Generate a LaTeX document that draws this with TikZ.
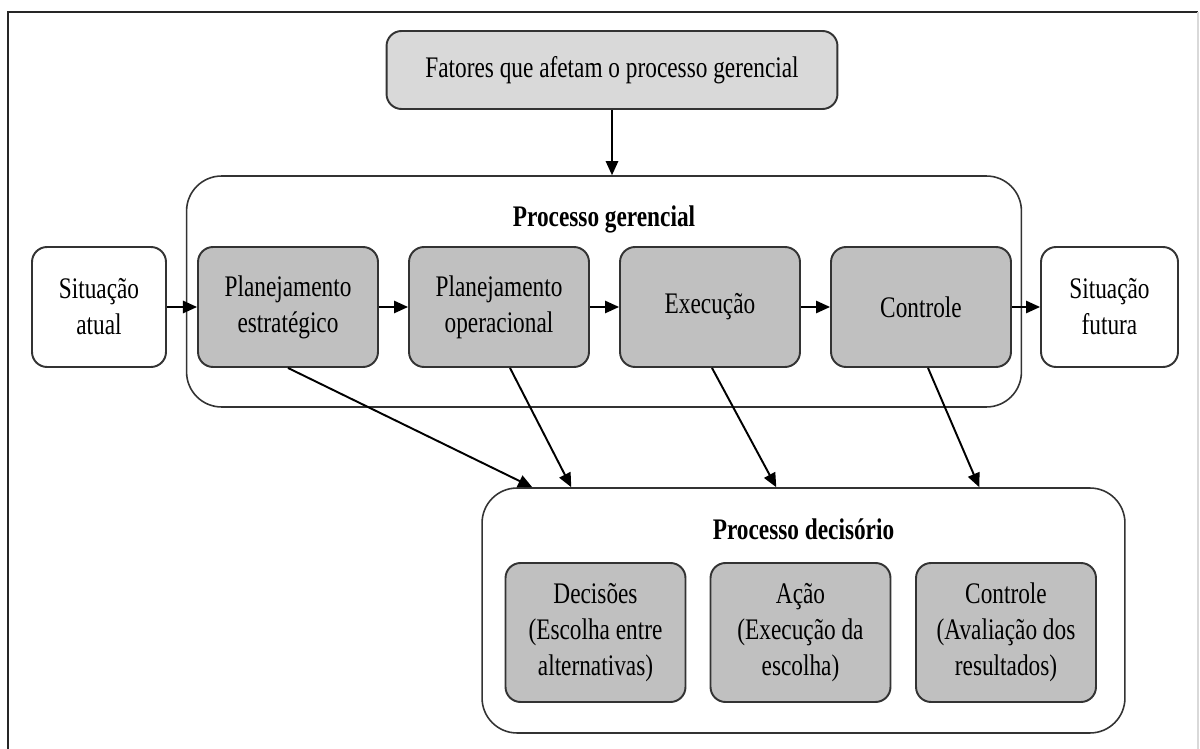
\documentclass[tikz,border=0pt]{standalone}
\usepackage{fontspec}
\setmainfont{Liberation Serif}[FakeStretch=0.78]
\usepackage{xcolor}
\usetikzlibrary{arrows.meta,calc}

\definecolor{cinzaclaro}{HTML}{D9D9D9}
\definecolor{cinza}{HTML}{C0C0C0}
\newcommand{\texto}{\fontsize{17pt}{20.4pt}\selectfont}

\tikzset{
  caixa/.style={draw=black!80, line width=1.1pt, rounded corners=0.3cm,
    fill=cinza, align=center, font=\texto, inner sep=2pt,
    minimum width=3.6cm, minimum height=2.4cm},
  situacao/.style={caixa, fill=white},
  grupo/.style={draw=black!80, line width=0.9pt, rounded corners=0.7cm,
    inner sep=0pt},
  seta/.style={line width=1.1pt, -{Triangle[length=8pt,width=7pt]}},
}

\begin{document}
\begin{tikzpicture}[x=0.02cm,y=-0.02cm]
\useasboundingbox (0,0) rectangle (1200,749);

% Moldura
\draw[line width=1.2pt, black!85] (8,760) -- (8,12) -- (1198,12);
\draw[line width=0.8pt, black!15] (1198,12) -- (1198,760);

% Fatores no topo
\node[caixa, fill=cinzaclaro, minimum width=9.02cm, minimum height=1.56cm]
  (fatores) at (612,70) {Fatores que afetam o processo gerencial};

% Processo gerencial
\node[grupo, minimum width=16.7cm, minimum height=4.62cm] (gerencial) at (604,291.5) {};
\node[font=\texto\bfseries] (tgerencial) at ($(gerencial.north)+(0,44)$) {Processo gerencial};

\node[situacao, minimum width=2.68cm] (atual) at (99,307) {Situação\\atual};
\node[caixa] (estrategico) at (288,307) {Planejamento\\estratégico};
\node[caixa] (operacional) at (499,307) {Planejamento\\operacional};
\node[caixa] (execucao) at (710,307) {Execução};
\node[caixa] (controle) at (921,307) {Controle};
\node[situacao, minimum width=2.74cm] (futura) at (1109.5,307) {Situação\\futura};

% Processo decisorio
\node[grupo, minimum width=12.86cm, minimum height=4.9cm] (decisorio) at (803.5,610.5) {};
\node[font=\texto\bfseries] (tdecisorio) at ($(decisorio.north)+(0,42)$) {Processo decisório};

\node[caixa, minimum height=2.78cm] (decisoes) at (595.5,632.5) {Decisões\\(Escolha entre\\alternativas)};
\node[caixa, minimum height=2.78cm] (acao) at (800.5,632.5) {Ação\\(Execução da\\escolha)};
\node[caixa, minimum height=2.78cm] (avaliacao) at (1006,632.5) {Controle\\(Avaliação dos\\resultados)};

% Setas
\draw[seta] (fatores) -- (gerencial.north -| fatores);
\draw[seta] (atual) -- (estrategico);
\draw[seta] (estrategico) -- (operacional);
\draw[seta] (operacional) -- (execucao);
\draw[seta] (execucao) -- (controle);
\draw[seta] (controle) -- (futura);

\draw[seta] (estrategico.south) -- ($(decisorio.north west)+(51,0)$);
\draw[seta] ($(operacional.south)+(11,0)$) -- ($(decisorio.north west)+(90,0)$);
\draw[seta] ($(execucao.south)+(2,0)$) -- ($(decisorio.north west)+(295,0)$);
\draw[seta] ($(controle.south)+(7,0)$) -- ($(decisorio.north west)+(498,0)$);

\end{tikzpicture}
\end{document}
